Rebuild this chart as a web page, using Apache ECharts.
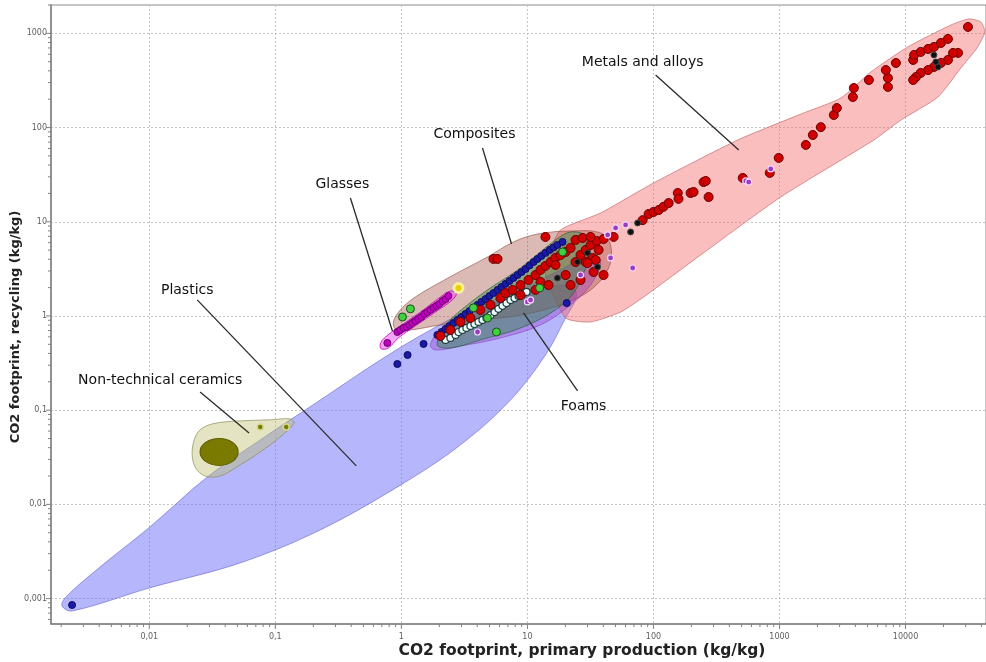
<!DOCTYPE html>
<html>
<head>
<meta charset="utf-8">
<script src="https://cdn.jsdelivr.net/npm/echarts@6/dist/echarts.min.js"></script>
<style>
  html, body { margin: 0; padding: 0; background: #fff; }
  #chart { width: 986px; height: 662px; }
</style>
</head>
<body>
<div id="chart"></div>
<script>
// ---- Axis ranges and tick labels (log10 axes, values in kg/kg) ----
const xMin = 0.00166, xMax = 43500;
const yMin = 0.000537, yMax = 2000;
const xTickValues = [0.01, 0.1, 1, 10, 100, 1000, 10000];
const xTickLabels = ['0,01', '0,1', '1', '10', '100', '1000', '10000'];
const yTickValues = [0.001, 0.01, 0.1, 1, 10, 100, 1000];
const yTickLabels = ['0,001', '0,01', '0,1', '1', '10', '100', '1000'];

// ---- Material family envelopes: [primary production, recycling] ----
const plasticsHull = [
  [0.00218, 0.00104], [0.00406, 0.00216], [0.0101, 0.00575], [0.0288, 0.0195],
  [0.0759, 0.0483], [0.227, 0.128], [0.681, 0.341], [1.70, 0.710], [4.24, 1.31],
  [10.6, 1.89], [22.0, 2.08], [24.5, 1.63], [20.1, 0.952], [13.9, 0.385],
  [7.34, 0.128], [2.94, 0.0427], [0.99, 0.0161], [0.227, 0.00535],
  [0.0526, 0.00239], [0.0101, 0.00130], [0.00244, 0.000738], [0.00203, 0.000834]
];
const ceramicsHull = [
  [0.0219, 0.0378], [0.0244, 0.0587], [0.0315, 0.0714], [0.0526, 0.0769],
  [0.0912, 0.0789], [0.131, 0.0808], [0.141, 0.0731], [0.109, 0.0519],
  [0.0759, 0.0360], [0.0526, 0.0262], [0.0365, 0.0200], [0.0277, 0.0200], [0.0231, 0.0249]
];
const metalsHull = [
  [13.9, 2.72], [14.7, 4.44], [18.3, 8.18], [38.1, 12.4], [100, 25.8], [467, 73.8],
  [1476, 139], [3069, 206], [5309, 389], [10440, 718], [22960, 1228], [31900, 1422],
  [39600, 1321], [42700, 1035], [36900, 700], [27500, 429], [18070, 211], [9190, 120],
  [5610, 73.8], [1023, 18.3], [237, 4.44], [83.6, 1.59], [54.9, 1.10], [31.7, 0.864], [20.1, 0.952]
];
const compositesHull = [
  [0.864, 0.864], [0.982, 1.16], [1.29, 1.59], [2.59, 2.72], [4.82, 4.23], [7.77, 6.11],
  [12.0, 7.41], [22.0, 7.98], [38.1, 7.61], [45.7, 5.67], [44.1, 3.23], [31.7, 1.89],
  [18.3, 1.31], [8.81, 1.02], [4.24, 0.907], [2.04, 0.802], [1.18, 0.710], [0.913, 0.710]
];
const violetHull = [
  [1.70, 0.492], [2.04, 0.710], [6.11, 1.48], [18.3, 3.08], [31.7, 4.44], [38.1, 3.74],
  [31.7, 2.13], [22.0, 1.31], [12.7, 0.802], [6.11, 0.584], [2.94, 0.478], [1.86, 0.435]
];
const foamsHull = [
  [1.93, 0.492], [2.24, 0.802], [4.24, 1.67], [8.81, 3.23], [16.7, 6.41], [22.0, 7.80],
  [29.0, 7.07], [30.6, 4.44], [24.1, 1.89], [16.7, 1.16], [8.81, 0.746], [4.24, 0.556], [2.45, 0.457]
];
const glassesHull = [
  [0.681, 0.505], [0.733, 0.584], [0.98, 0.783], [1.42, 1.10], [2.04, 1.59], [2.45, 1.84],
  [2.74, 1.75], [2.54, 1.48], [1.86, 1.10], [1.29, 0.783], [0.946, 0.584], [0.788, 0.457], [0.693, 0.447]
];

// ---- Individual materials ----
const plasticsPts = [
  [0.00244, 0.000855], [0.929, 0.309], [1.12, 0.385], [1.50, 0.505], [20.5, 1.37],
  [1.93, 0.629], [2.08, 0.676], [2.24, 0.728], [2.41, 0.783], [2.59, 0.843], [2.79, 0.907],
  [3.00, 0.976], [3.22, 1.05], [3.47, 1.13], [3.73, 1.22], [4.02, 1.31], [4.32, 1.41],
  [4.65, 1.51], [5.00, 1.63], [5.38, 1.75], [5.79, 1.89], [6.23, 2.03], [6.70, 2.19],
  [7.21, 2.35], [7.76, 2.53], [8.34, 2.72], [8.98, 2.93], [9.66, 3.15], [10.4, 3.44],
  [11.2, 3.74], [12.0, 4.03], [12.9, 4.33], [13.9, 4.67], [15.0, 5.02], [16.1, 5.34],
  [17.3, 5.67], [19.0, 6.11]
];
const metalsPts = [
  [2.04, 0.613], [2.45, 0.710], [2.94, 0.864], [3.53, 0.952], [4.24, 1.16], [5.09, 1.31],
  [6.11, 1.55], [6.70, 1.75], [7.62, 1.89], [8.81, 2.13], [10.2, 2.41], [11.6, 2.72],
  [12.7, 3.08], [13.9, 3.40], [15.3, 3.74], [16.7, 4.13], [18.3, 4.44], [20.1, 4.78],
  [22.0, 5.27], [24.1, 3.74], [26.4, 4.44], [29.0, 5.02], [31.7, 5.67], [35.4, 6.25],
  [24.1, 6.41], [27.4, 6.73], [31.7, 6.90], [29.0, 3.74], [32.9, 4.13], [36.7, 5.02],
  [22.0, 2.13], [26.4, 2.41], [20.1, 2.72], [16.7, 3.48], [14.7, 2.13], [12.7, 2.30],
  [11.6, 1.89], [8.81, 1.67],
  [13.9, 6.90], [5.38, 4.03], [5.79, 4.03],
  [34.8, 3.93], [30.0, 3.65], [40.2, 2.72], [33.5, 2.93], [40.2, 6.56], [48.3, 6.90],
  [82.1, 10.4], [91.6, 12.1], [100, 12.7], [110, 13.3], [120, 14.4], [132, 15.8],
  [156, 20.2], [158, 17.5], [197, 20.2], [208, 20.7], [250, 26.4], [260, 27.1], [274, 18.3],
  [511, 29.2], [837, 33.0], [986, 47.6],
  [1618, 65.4], [1838, 83.4], [2128, 101], [2698, 136], [2851, 161],
  [3820, 211], [3890, 263], [5120, 320], [7250, 270], [7250, 336], [6980, 408], [8390, 485],
  [11500, 522], [11700, 590], [13200, 635], [15100, 683], [16800, 717], [19100, 791], [21700, 873],
  [31300, 1170], [26100, 620], [23800, 620], [21700, 522], [19100, 485], [16800, 440],
  [15100, 408], [13200, 380], [12100, 344], [11500, 320]
];
const blackPts = [
  [74.9, 9.71], [65.9, 7.80], [30.0, 4.67], [25.0, 3.74], [17.3, 2.53], [36.0, 3.31],
  [16800, 590], [17400, 497], [18100, 440]
];
const violetPts = [
  [540, 27.1], [570, 26.4], [853, 36.4], [68.4, 3.23], [45.7, 4.13], [26.4, 2.72],
  [60.1, 9.25], [50.1, 8.60], [43.3, 7.24], [4.02, 0.676], [10.0, 1.41], [10.6, 1.48]
];
const glassesPts = [
  [0.774, 0.517], [0.929, 0.676], [0.982, 0.710], [1.04, 0.746], [1.10, 0.764], [1.16, 0.802],
  [1.22, 0.843], [1.29, 0.885], [1.36, 0.929], [1.44, 0.976], [1.52, 1.05], [1.61, 1.10],
  [1.70, 1.16], [1.80, 1.22], [1.90, 1.28], [2.00, 1.34], [2.12, 1.44], [2.24, 1.51], [2.36, 1.63]
];
const compositesPts = [
  [1.18, 1.19], [1.02, 0.976], [3.73, 1.22], [4.82, 0.952], [5.68, 0.676], [12.5, 1.98], [19.0, 4.78]
];
const foamsPts = [
  [2.24, 0.556], [2.45, 0.584], [2.69, 0.629], [2.84, 0.676], [3.05, 0.710], [3.28, 0.746],
  [3.53, 0.783], [3.80, 0.822], [4.09, 0.864], [4.40, 0.907], [4.73, 0.952], [5.09, 1.02],
  [5.48, 1.10], [5.89, 1.19], [6.34, 1.28], [6.82, 1.37], [7.34, 1.48], [7.90, 1.55],
  [8.50, 1.63], [9.14, 1.71], [9.84, 1.80]
];
const yellowPts = [[2.84, 1.98]];
const ceramicsPts = [[0.0759, 0.0663], [0.122, 0.0663]];
const ceramicsCore = [[0.0358, 0.0360]];

// ---- Family labels: text position, leader line start, leader line end ----
const labelTexts = ['Metals and alloys', 'Composites', 'Glasses', 'Plastics', 'Non-technical ceramics', 'Foams'];
const labelPos = [[82.1, 497], [3.80, 85.5], [0.340, 25.2], [0.0200, 1.89], [0.0122, 0.209], [27.9, 0.111]];
const lineFrom = [[104, 362], [4.40, 60.7], [0.394, 17.9], [0.0240, 1.48], [0.0253, 0.156], [25.0, 0.160]];
const lineTo = [[475, 57.8], [7.48, 5.81], [0.849, 0.693], [0.439, 0.0256], [0.0619, 0.0573], [9.31, 1.08]];

// ---- Tick positions: decades plus 2..9 sub-ticks ----
const xTickData = [], yTickData = [];
for (let d = -4; d <= 5; d++) {
  for (let m = 1; m <= 9; m++) {
    const v = m * Math.pow(10, d);
    if (v >= xMin && v <= xMax) xTickData.push([v, yMin, m === 1 ? 1 : 0]);
    if (v >= yMin && v <= yMax) yTickData.push([xMin, v, m === 1 ? 1 : 0]);
  }
}

function labelFor(values, labels) {
  return function (v) {
    for (let i = 0; i < values.length; i++) {
      if (Math.abs(Math.log10(values[i]) - Math.log10(v)) < 1e-6) return labels[i];
    }
    return '';
  };
}

function hullSeries(name, pts, fill, stroke, smooth) {
  return {
    name: name, type: 'custom', coordinateSystem: 'cartesian2d', silent: true, z: 2,
    data: pts,
    renderItem: function (params, api) {
      if (params.dataIndex !== 0) return null;
      return {
        type: 'polygon',
        shape: { points: pts.map(function (p) { return api.coord(p); }), smooth: smooth },
        style: { fill: fill, stroke: stroke, lineWidth: 1 }
      };
    }
  };
}

function pointSeries(name, pts, size, color, border, borderWidth, z) {
  return {
    name: name, type: 'scatter', data: pts, symbol: 'circle', symbolSize: size, z: z,
    itemStyle: { color: color, borderColor: border, borderWidth: borderWidth, opacity: 1 }
  };
}

const chart = echarts.init(document.getElementById('chart'));
chart.setOption({
  animation: false,
  backgroundColor: '#fff',
  grid: { left: 51, right: 0, top: 5, bottom: 38, show: true, borderColor: '#8a8a8a', borderWidth: 1, backgroundColor: '#fff' },
  xAxis: {
    type: 'log', logBase: 10, min: xMin, max: xMax,
    axisLine: { show: true, lineStyle: { color: '#808080', width: 1.5 } },
    axisTick: { show: false },
    axisLabel: { showMinLabel: false, showMaxLabel: false, formatter: labelFor(xTickValues, xTickLabels),
      fontSize: 8, color: '#606060', fontFamily: 'DejaVu Sans', margin: 9 },
    splitLine: { show: true, lineStyle: { color: '#c4c4c4', type: [2, 2], width: 1 } }
  },
  yAxis: {
    type: 'log', logBase: 10, min: yMin, max: yMax,
    axisLine: { show: true, lineStyle: { color: '#808080', width: 1.5 } },
    axisTick: { show: false },
    axisLabel: { showMinLabel: false, showMaxLabel: false, formatter: labelFor(yTickValues, yTickLabels),
      fontSize: 8, color: '#606060', fontFamily: 'DejaVu Sans', margin: 4 },
    splitLine: { show: true, lineStyle: { color: '#c4c4c4', type: [2, 2], width: 1 } }
  },
  graphic: [
    { type: 'text', x: 582, y: 651, style: { text: 'CO2 footprint, primary production (kg/kg)',
      font: 'bold 15.5px "DejaVu Sans"', fill: '#222', align: 'center', verticalAlign: 'middle' } },
    { type: 'text', x: 16, y: 327, rotation: Math.PI / 2, style: { text: 'CO2 footprint, recycling (kg/kg)',
      font: 'bold 13px "DejaVu Sans"', fill: '#222', align: 'center', verticalAlign: 'middle' } }
  ],
  series: [
    hullSeries('Plastics', plasticsHull, 'rgba(110,110,250,0.5)', 'rgba(90,90,200,0.55)', 0.35),
    hullSeries('Non-technical ceramics', ceramicsHull, 'rgba(190,190,110,0.42)', 'rgba(140,140,90,0.7)', 0.35),
    hullSeries('Metals and alloys', metalsHull, 'rgba(245,110,110,0.45)', 'rgba(190,90,90,0.6)', 0.2),
    hullSeries('Composites', compositesHull, 'rgba(160,70,60,0.38)', 'rgba(140,70,60,0.6)', 0.35),
    hullSeries('Violet group', violetHull, 'rgba(150,50,200,0.35)', 'rgba(130,50,170,0.5)', 0.35),
    hullSeries('Foams', foamsHull, 'rgba(40,140,60,0.42)', 'rgba(30,90,50,0.6)', 0.35),
    hullSeries('Glasses', glassesHull, 'rgba(235,80,235,0.5)', 'rgba(200,0,200,0.8)', 0.35),
    pointSeries('Ceramics core', ceramicsCore, [38, 27], '#7a7a00', '#5f5f00', 1, 3),
    pointSeries('Ceramics', ceramicsPts, 6, '#7a7a00', '#d8d890', 1.5, 3),
    pointSeries('Foam grades', foamsPts, 7, '#e8fbfb', '#1f3a3a', 1.2, 4),
    pointSeries('Plastic grades', plasticsPts, 7, '#1a1aa8', '#0a0a60', 1, 4),
    pointSeries('Metal grades', metalsPts, 9, '#d00000', '#6a0000', 1, 4),
    pointSeries('Violet grades', violetPts, 6, '#9a3cc0', '#f0d8ff', 1.2, 5),
    pointSeries('Black grades', blackPts, 6, '#111111', '#444444', 1, 5),
    pointSeries('Glass grades', glassesPts, 7, '#c000c0', '#700070', 1, 5),
    pointSeries('Composite grades', compositesPts, 8, '#40d040', '#1e4a1e', 1, 5),
    pointSeries('Yellow grade', yellowPts, 9, '#e8d000', '#f4f0a0', 3, 5),
    {
      name: 'Labels', type: 'custom', coordinateSystem: 'cartesian2d', silent: true, z: 10, clip: false,
      data: labelPos,
      renderItem: function (params, api) {
        const i = params.dataIndex;
        const t = api.coord(labelPos[i]);
        const a = api.coord(lineFrom[i]);
        const b = api.coord(lineTo[i]);
        return {
          type: 'group',
          children: [
            { type: 'line', shape: { x1: a[0], y1: a[1], x2: b[0], y2: b[1] }, style: { stroke: '#2a2a2a', lineWidth: 1.3 } },
            { type: 'text', x: t[0], y: t[1], style: { text: labelTexts[i], fill: '#111', font: '14px "DejaVu Sans"', align: 'center', verticalAlign: 'middle' } }
          ]
        };
      }
    },
    {
      name: 'X ticks', type: 'custom', coordinateSystem: 'cartesian2d', silent: true, z: 10, clip: false,
      data: xTickData,
      renderItem: function (params, api) {
        const p = api.coord([api.value(0), yMin]);
        const len = api.value(2) ? 5 : 3;
        return { type: 'line', shape: { x1: p[0], y1: p[1], x2: p[0], y2: p[1] + len }, style: { stroke: '#808080', lineWidth: 1 } };
      }
    },
    {
      name: 'Y ticks', type: 'custom', coordinateSystem: 'cartesian2d', silent: true, z: 10, clip: false,
      data: yTickData,
      renderItem: function (params, api) {
        const p = api.coord([xMin, api.value(1)]);
        const len = api.value(2) ? 5 : 3;
        return { type: 'line', shape: { x1: p[0] - len, y1: p[1], x2: p[0], y2: p[1] }, style: { stroke: '#808080', lineWidth: 1 } };
      }
    }
  ]
});
</script>
</body>
</html>
